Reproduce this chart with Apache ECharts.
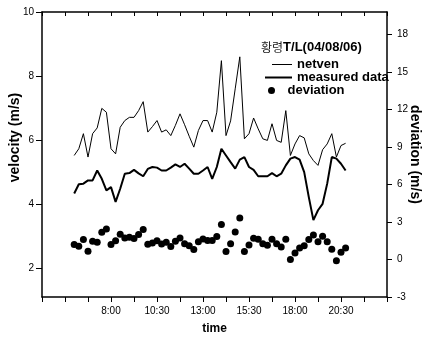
<!DOCTYPE html>
<html><head><meta charset="utf-8">
<script src="https://cdn.jsdelivr.net/npm/echarts@6/dist/echarts.min.js"></script>
<style>html,body{margin:0;padding:0;background:#fff}#c{width:422px;height:337px}</style>
</head><body><div id="c"></div>
<script>
const times = ["6:00","6:15","6:30","6:45","7:00","7:15","7:30","7:45","8:00","8:15",
"8:30","8:45","9:00","9:15","9:30","9:45","10:00","10:15","10:30","10:45",
"11:00","11:15","11:30","11:45","12:00","12:15","12:30","12:45","13:00","13:15",
"13:30","13:45","14:00","14:15","14:30","14:45","15:00","15:15","15:30","15:45",
"16:00","16:15","16:30","16:45","17:00","17:15","17:30","17:45","18:00","18:15",
"18:30","18:45","19:00","19:15","19:30","19:45","20:00","20:15","20:30","20:45"];
const netven = [5.52,5.73,6.20,5.47,6.20,6.38,6.99,6.87,5.73,5.57,
6.40,6.61,6.71,6.71,6.92,7.20,6.25,6.42,6.61,6.25,
6.32,6.14,6.46,6.82,6.48,6.12,5.78,6.30,6.61,6.61,
6.25,6.87,8.48,6.14,6.60,7.60,8.60,6.04,6.20,6.69,
6.35,6.04,5.99,6.51,5.99,5.93,6.92,5.52,5.88,6.14,
6.07,5.57,5.36,5.21,5.70,5.88,6.20,5.47,5.83,5.90];
const measured = [4.33,4.62,4.64,4.74,4.74,5.05,4.79,4.43,4.53,4.07,
4.48,4.95,4.97,5.07,4.96,4.87,5.10,5.16,5.14,5.05,
5.05,5.14,5.24,5.16,5.26,5.11,4.95,4.95,5.05,5.16,
4.79,5.16,5.73,5.52,5.31,5.11,5.39,5.47,5.16,5.07,
4.87,4.87,4.87,4.97,4.87,4.95,5.21,5.42,5.47,5.39,
5.00,4.22,3.50,3.81,4.01,4.64,5.47,5.42,5.26,5.05];
const deviation = [1.2,1.07,1.6,0.67,1.47,1.39,2.19,2.45,1.2,1.5,
2.02,1.73,1.79,1.68,2.0,2.4,1.22,1.33,1.5,1.25,
1.38,1.04,1.47,1.73,1.26,1.1,0.8,1.43,1.65,1.52,
1.52,1.84,2.8,0.64,1.26,2.2,3.33,0.64,1.17,1.7,
1.62,1.26,1.15,1.62,1.26,1.0,1.62,0.0,0.53,0.93,
1.1,1.6,1.96,1.43,1.87,1.43,0.82,-0.1,0.59,0.93];
const xTickLabels = ["8:00","10:30","13:00","15:30","18:00","20:30"];
const xTickMarks = ["4:15","5:30","6:45","8:00","9:15","10:30","11:45","13:00","14:15","15:30","16:45","18:00","19:15","20:30","21:45","23:00"];
const velTicks = [2,4,6,8,10];
const devTicks = [-3,0,3,6,9,12,15,18];

const toH = s => { const p = s.split(':'); return +p[0] + (+p[1])/60; };
const fmtH = v => { const h = Math.floor(v + 1e-6); const m = Math.round((v - h) * 60); return h + ':' + (m < 10 ? '0' + m : m); };
const xs = times.map(toH);
const pair = arr => arr.map((v, i) => [xs[i], v]);

const F = 'Liberation Sans, Arial, Helvetica, sans-serif';
const black = '#000';
const legendText = {fontFamily: F, fontWeight: 'bold', fontSize: 13, color: black};
const chart = echarts.init(document.getElementById('c'), null, {renderer: 'canvas'});
chart.setOption({
  animation: false,
  backgroundColor: '#fff',
  grid: {left: 42, right: 35, top: 12, bottom: 40, outerBoundsMode: 'none', containLabel: false},
  title: {
    text: '{k|황령}T/L(04/08/06)', left: 256, top: 36,
    textStyle: {fontFamily: F, fontWeight: 'bold', fontSize: 13, color: black,
      rich: {k: {fontFamily: 'Noto Sans CJK KR', fontWeight: 'normal', fontSize: 12, color: '#222'}}}
  },
  legend: [
    {data: ['netven'], left: 267, top: 53, icon: 'rect', itemWidth: 20, itemHeight: 1, textStyle: legendText},
    {data: ['measured data'], left: 260, top: 66, icon: 'rect', itemWidth: 27, itemHeight: 2, textStyle: legendText},
    {data: ['deviation'], left: 263, top: 79, icon: 'circle', itemWidth: 22, itemHeight: 7, textStyle: legendText}
  ],
  xAxis: [{
    type: 'value', min: toH(xTickMarks[0]), max: toH(xTickMarks[xTickMarks.length - 1]),
    name: 'time', nameLocation: 'middle', nameGap: 26,
    nameTextStyle: {fontFamily: F, fontWeight: 'bold', fontSize: 12, color: black},
    axisLine: {show: true, onZero: false, lineStyle: {color: black, width: 1.5}},
    axisTick: {show: true, length: 5, lineStyle: {color: black}, customValues: xTickMarks.map(toH)},
    axisLabel: {color: black, fontFamily: F, fontSize: 10, margin: 9, customValues: xTickLabels.map(toH), formatter: v => fmtH(v)},
    splitLine: {show: false}
  }, {
    type: 'value', position: 'top', min: toH(xTickMarks[0]), max: toH(xTickMarks[xTickMarks.length - 1]),
    axisLine: {show: true, onZero: false, lineStyle: {color: black, width: 1.5}},
    axisTick: {show: true, inside: true, length: 4, lineStyle: {color: black}, customValues: xTickMarks.map(toH)},
    axisLabel: {show: false}, splitLine: {show: false}
  }],
  yAxis: [{
    type: 'value', min: 1.1, max: 10,
    name: 'velocity (m/s)', nameLocation: 'middle', nameGap: 20, nameMoveOverlap: false,
    nameTextStyle: {fontFamily: F, fontWeight: 'bold', fontSize: 14, color: black, padding: [0, 0, 0, 34]},
    axisLine: {show: true, onZero: false, lineStyle: {color: black, width: 1.5}},
    axisTick: {show: true, length: 6, lineStyle: {color: black}, customValues: velTicks},
    axisLabel: {color: black, fontFamily: F, fontSize: 10, margin: 8, customValues: velTicks},
    splitLine: {show: false}
  }, {
    type: 'value', min: -3, max: 19.8, position: 'right',
    name: 'deviation (m/s)', nameLocation: 'middle', nameGap: 21, nameRotate: -90, nameMoveOverlap: false,
    nameTextStyle: {fontFamily: F, fontWeight: 'bold', fontSize: 14, color: black},
    axisLine: {show: true, onZero: false, lineStyle: {color: black, width: 1.5}},
    axisTick: {show: true, length: 5, lineStyle: {color: black}, customValues: devTicks},
    axisLabel: {color: black, fontFamily: F, fontSize: 10, margin: 10, customValues: devTicks},
    splitLine: {show: false}
  }],
  series: [
    {name: 'netven', type: 'line', data: pair(netven), showSymbol: false, symbol: 'none',
     lineStyle: {color: black, width: 1}, itemStyle: {color: black}},
    {name: 'measured data', type: 'line', data: pair(measured), showSymbol: false, symbol: 'none',
     lineStyle: {color: black, width: 2}, itemStyle: {color: black}},
    {name: 'deviation', type: 'scatter', yAxisIndex: 1, data: pair(deviation), symbolSize: 7,
     itemStyle: {color: black, opacity: 1}}
  ]
});
</script></body></html>
